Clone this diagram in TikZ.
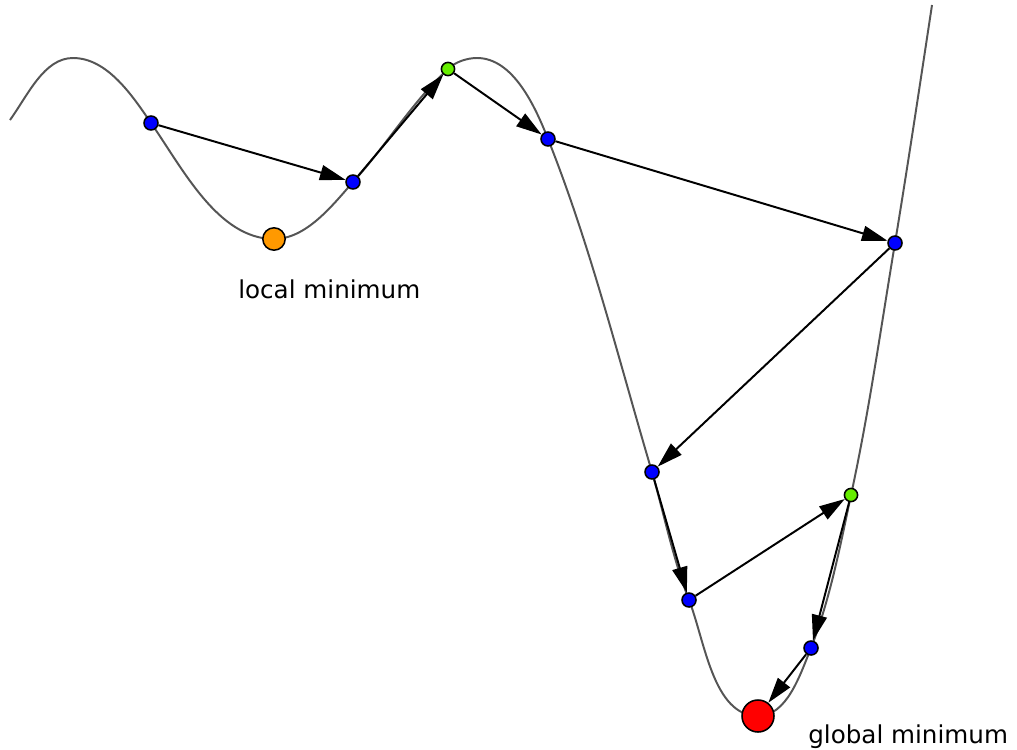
\documentclass[tikz,border=0pt]{standalone}
\usepackage{fontspec}
\setmainfont{DejaVu Sans}
\usetikzlibrary{arrows.meta, backgrounds}
\definecolor{cInk}{HTML}{000000}
\definecolor{cCurve}{HTML}{555555}
\definecolor{cStep}{HTML}{0000FF}
\definecolor{cPeak}{HTML}{66EE00}
\definecolor{cLoc}{HTML}{FF9900}
\definecolor{cGlob}{HTML}{FF0000}
\tikzset{
  dot/.style={circle, draw=cInk, line width=1.1pt, inner sep=0pt, minimum size=3.5mm},
  pt/.style={dot, fill=cStep},
  up/.style={dot, fill=cPeak, minimum size=3.3mm},
  lmin/.style={dot, fill=cLoc, minimum size=5.6mm},
  gmin/.style={dot, fill=cGlob, minimum size=8mm},
  jump/.style={-{Triangle[length=6.4mm, width=3.8mm]}, line width=1.4pt, draw=cInk},
  curve/.style={draw=cCurve, line width=1.4pt},
  lab/.style={font=\fontsize{17.5}{20}\selectfont, text=cInk, inner sep=0pt},
}

\begin{document}
\begin{tikzpicture}[x=0.025cm, y=-0.025cm]
  \useasboundingbox (0,0) rectangle (1017,749);

  % ---- iterates along the descent
  \node[pt] (s1) at (151,123) {};
  \node[pt] (s2) at (353,182) {};
  \node[up] (s3) at (448,69)  {};
  \node[pt] (s4) at (548,139) {};
  \node[pt] (s5) at (895,243) {};
  \node[pt] (s6) at (652,472) {};
  \node[pt] (s7) at (689,600) {};
  \node[up] (s8) at (851,495) {};
  \node[pt] (s9) at (811,648) {};

  % ---- minima
  \node[lmin] (loc)  at (274,239) {};
  \node[gmin] (glob) at (758,716) {};
  \node[lab, anchor=base west] (loclab)  at (238,298) {local minimum};
  \node[lab, anchor=base west] (globlab) at (808,743) {global minimum};

  \begin{scope}[on background layer]
    % ---- objective function
    \draw[curve] (10,120) .. controls (28,95) and (44,58) .. (73,58)
      .. controls (107,58) and (132,95) .. (s1.center)
      .. controls (183,169) and (218,239) .. (loc.center)
      .. controls (306,239) and (332,206) .. (s2.center)
      .. controls (386,146) and (412,102) .. (s3.center)
      .. controls (455,62) and (467,58) .. (477,58)
      .. controls (513,58) and (535,106) .. (s4.center)
      .. controls (591,247) and (619,361) .. (s6.center)
      .. controls (664,514) and (673,559) .. (s7.center)
      .. controls (705,641) and (713,716) .. (glob.center)
      .. controls (787,716) and (800,675) .. (s9.center)
      .. controls (830,599) and (840,547) .. (s8.center)
      .. controls (869,412) and (881,327) .. (s5.center)
      .. controls (908,164) and (920,84) .. (932,5);

    % ---- steps
    \draw[jump] (s1) -- (s2);
    \draw[jump] (s2) -- (s3);
    \draw[jump] (s3) -- (s4);
    \draw[jump] (s4) -- (s5);
    \draw[jump] (s5) -- (s6);
    \draw[jump] (s6) -- (s7);
    \draw[jump] (s7) -- (s8);
    \draw[jump] (s8) -- (s9);
    \draw[jump] (s9) -- (glob);
  \end{scope}
\end{tikzpicture}
\end{document}
